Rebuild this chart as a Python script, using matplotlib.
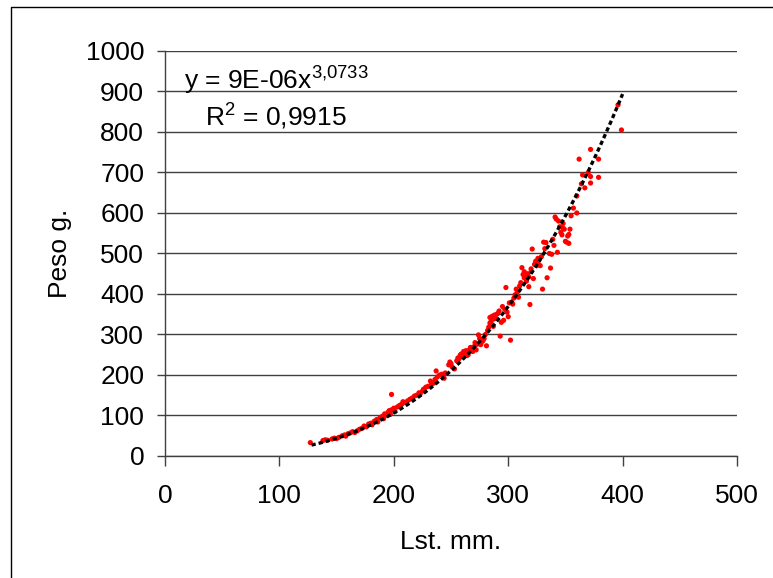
import numpy as np
import matplotlib
matplotlib.use("Agg")
import matplotlib.pyplot as plt
from matplotlib.lines import Line2D

plt.rcParams['font.family'] = ['Liberation Sans', 'DejaVu Sans']
plt.rcParams['mathtext.fontset'] = 'custom'
plt.rcParams['mathtext.rm'] = 'Liberation Sans'
plt.rcParams['mathtext.it'] = 'Liberation Sans'
plt.rcParams['mathtext.default'] = 'regular'

# Observed data (length mm, weight g)
lst_mm = [127, 138, 140, 142, 146, 148, 150, 152, 155, 157, 158, 160, 162, 164, 166,
          168, 170, 172, 174, 176, 178, 180, 181, 183, 185, 186, 188, 190, 191, 192,
          194, 195, 196, 197, 198, 198, 200, 201, 203, 205, 207, 208, 210, 212, 214,
          216, 218, 220, 222, 223, 225, 226, 228, 230, 232, 233, 235, 236, 237, 238,
          240, 242, 244, 245, 248, 249, 250, 251, 253, 255, 256, 258, 260, 262, 263,
          265, 266, 268, 270, 271, 272, 274, 275, 276, 278, 280, 281, 282, 283, 284,
          285, 286, 287, 288, 289, 290, 292, 293, 294, 295, 296, 298, 300, 301, 302,
          303, 304, 305, 307, 308, 310, 312, 313, 314, 315, 316, 317, 318, 319, 320,
          321, 322, 323, 324, 325, 326, 327, 329, 330, 331, 333, 334, 336, 337, 338,
          340, 341, 342, 343, 345, 347, 348, 349, 350, 351, 352, 353, 354, 355, 348,
          353, 360, 360, 362, 365, 367, 372, 372, 372, 379, 379, 396, 399,
          257, 259, 261, 264, 267, 269, 273, 277, 279, 284, 287, 291, 297, 299, 306,
          309, 311, 314, 318, 320, 326, 328, 332, 339, 344, 346, 357, 364, 370]
peso_g = [33, 38, 40, 39, 42, 44, 43, 46, 50, 52, 49, 55, 57, 60, 58,
          62, 66, 68, 74, 72, 79, 81, 77, 86, 90, 84, 95, 98, 92, 104,
          100, 108, 112, 103, 114, 152, 118, 110, 121, 125, 128, 134, 132, 136, 140,
          143, 148, 150, 156, 153, 160, 165, 170, 172, 185, 178, 180, 189, 210, 195,
          200, 202, 192, 205, 225, 232, 228, 220, 215, 235, 242, 249, 245, 255, 260,
          250, 262, 265, 270, 280, 262, 299, 290, 275, 285, 300, 272, 310, 318, 342,
          332, 345, 320, 348, 340, 350, 358, 296, 330, 369, 335, 416, 344, 378, 286,
          380, 375, 390, 412, 405, 420, 465, 448, 440, 445, 432, 450, 418, 374, 455,
          511, 438, 473, 481, 470, 476, 484, 492, 412, 528, 527, 440, 500, 464, 498,
          520, 590, 585, 503, 566, 546, 574, 560, 530, 528, 543, 525, 560, 593, 562,
          547, 600, 642, 733, 694, 662, 690, 674, 757, 688, 733, 867, 805,
          240, 252, 258, 248, 268, 258, 276, 282, 290, 328, 338, 352, 362, 355, 398,
          392, 428, 455, 442, 462, 488, 470, 512, 535, 580, 552, 612, 672, 700]

# Power trendline coefficients shown on the chart
coef_a = 9e-06
coef_b = 3.0733
trend_range = [128, 400]

fs = 19

fig = plt.figure(figsize=(7.73, 5.78), dpi=100)
ax = fig.add_axes([0.2135, 0.2111, 0.9534 - 0.2135, 0.9118 - 0.2111])

xt = np.linspace(trend_range[0], trend_range[1], 200)
ax.scatter(lst_mm, peso_g, s=14, color='#ff0000', edgecolors='none', zorder=3)
ax.plot(xt, coef_a * xt ** coef_b, color='black', lw=2.4,
        linestyle=(0, (1.3, 0.9)), zorder=4)

ax.set_xlim(0, 500)
ax.set_ylim(0, 1000)
ax.set_xticks(range(0, 501, 100))
ax.set_yticks(range(0, 1001, 100))
ax.yaxis.grid(True, color='#404040', lw=1.0)
ax.set_axisbelow(True)
for s in ['top', 'right']:
    ax.spines[s].set_visible(False)
for s in ['left', 'bottom']:
    ax.spines[s].set_color('#404040')
    ax.spines[s].set_linewidth(1.0)
ax.tick_params(axis='y', length=6, width=1, color='#404040', pad=9, labelsize=fs)
ax.tick_params(axis='x', length=7, width=1, color='#404040', pad=13, labelsize=fs)

ax.set_xlabel('Lst. mm.', fontsize=fs, labelpad=16)
ax.set_ylabel('Peso g.', fontsize=fs, labelpad=10)

ax.text(17, 905, 'y = 9E-06x$^{3{,}0733}$', fontsize=fs, ha='left', va='baseline')
ax.text(35, 815, 'R$^{2}$ = 0,9915', fontsize=fs, ha='left', va='baseline')

# outer chart border (left and top edges visible)
bx = 11 / 773
by = 1 - 7 / 578
fig.add_artist(Line2D([bx, bx, 1.0], [0.0, by, by], color='black', lw=1.0,
                      transform=fig.transFigure))

fig.savefig('out.png', dpi=100)
